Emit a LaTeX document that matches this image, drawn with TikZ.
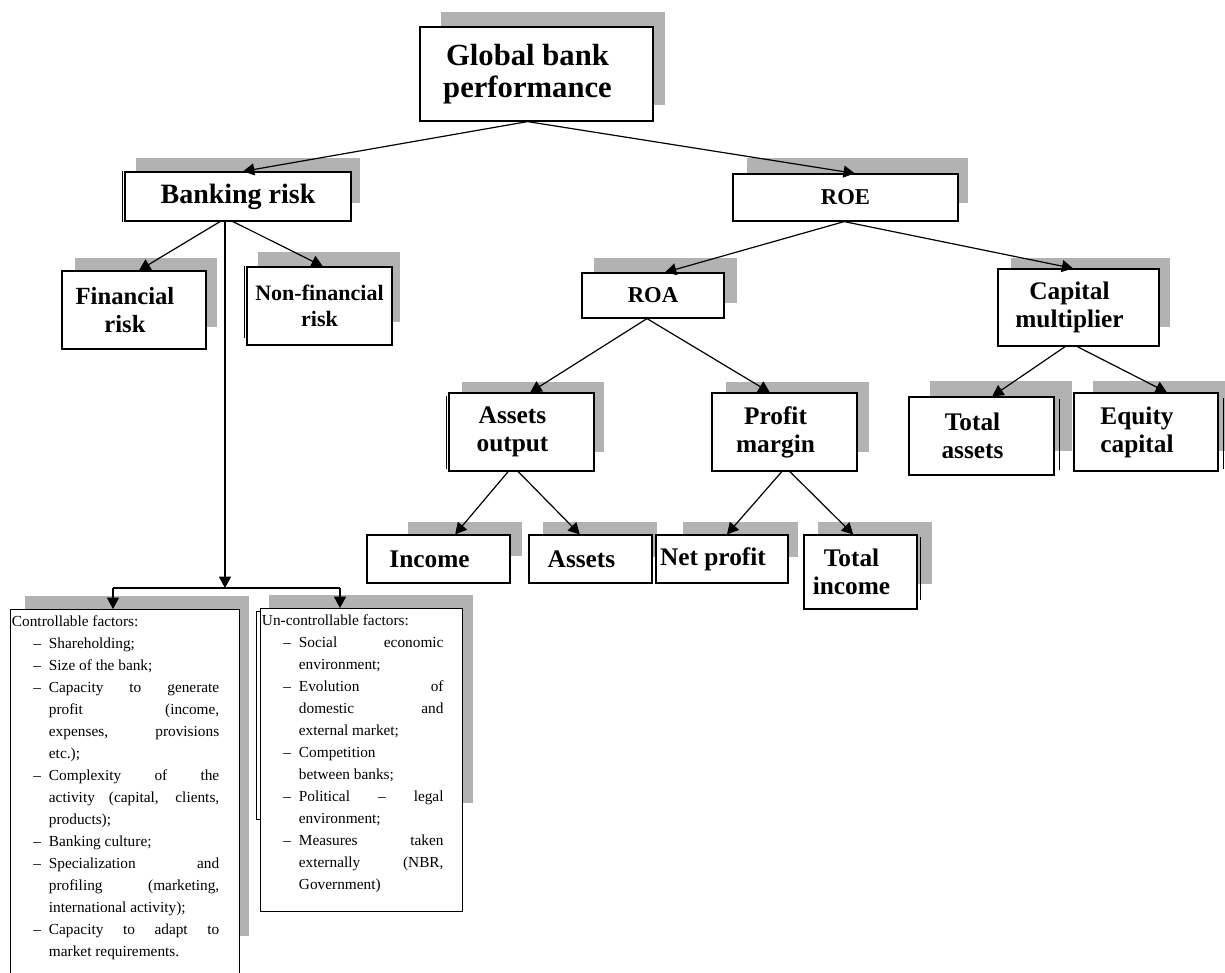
\documentclass[tikz,border=0pt]{standalone}
\usepackage{fontspec}
\setmainfont{Liberation Serif}
\usetikzlibrary{arrows.meta,calc}
\tikzset{
	treebox/.style = {shape=rectangle, draw, fill=white,
		line width=0.9pt, align=flush center, inner sep=0pt,
		font=\bfseries\fontsize{19}{21}\selectfont},
	boxsize/.style 2 args = {minimum width=#1*0.75pt, minimum height=#2*0.75pt,
		text width=#1*0.75pt},
	offleft/.style  = {execute at begin node={\advance\rightskip by 13.5pt}},
	topbox/.style   = {treebox, offleft, font=\bfseries\fontsize{23}{23.5}\selectfont},
	riskbox/.style  = {treebox, font=\bfseries\fontsize{18.5}{21}\selectfont},
	ratiobox/.style = {treebox, font=\bfseries\fontsize{17}{20}\selectfont},
	factors/.style  = {shape=rectangle, draw, fill=white, line width=0.9pt,
		anchor=north west, align=justify, inner xsep=1pt, inner ysep=0pt,
		text height=12.75pt, font=\fontsize{11.5}{16.5}\selectfont},
	shade/.style = {fill=black!30},
	link/.style  = {-{Triangle[length=8.5pt,width=9pt]}, line width=0.9pt},
	ghost/.style = {line width=0.5pt}
}
\newenvironment{dashlist}[1]{\begin{list}{--}{%
	\setlength{\leftmargin}{27.75pt}\setlength{\rightmargin}{#1}%
	\setlength{\labelsep}{6pt}\setlength{\labelwidth}{21pt}%
	\setlength{\topsep}{0pt}\setlength{\partopsep}{0pt}%
	\setlength{\itemsep}{0pt}\setlength{\parsep}{0pt}}%
	\tolerance=9999 \hyphenpenalty=10000 }{\end{list}}

\begin{document}
\begin{tikzpicture}[x=0.75pt, y=-0.75pt]
	\useasboundingbox (0,0) rectangle (1225,973);
	\clip (0,0) rectangle (1225,973);
	% shadows
	\fill[shade] (441,12) rectangle (665,105);
	\fill[shade] (136,158) rectangle (360,203);
	\fill[shade] (75,258) rectangle (217,327);
	\fill[shade] (258,252) rectangle (400,322);
	\fill[shade] (747,158) rectangle (968,203);
	\fill[shade] (594,258) rectangle (737,303);
	\fill[shade] (1011,258) rectangle (1170,327);
	\fill[shade] (462,382) rectangle (604,452);
	\fill[shade] (726,382) rectangle (869,452);
	\fill[shade] (408,522) rectangle (522,556);
	\fill[shade] (543,522) rectangle (657,557);
	\fill[shade] (683,522) rectangle (798,557);
	\fill[shade] (818,522) rectangle (932,584);
	\fill[shade] (930,381) rectangle (1072,451);
	\fill[shade] (1093,381) rectangle (1228,451);
	\fill[shade] (25,596) rectangle (249,936);
	\fill[shade] (269,595) rectangle (473,803);
	\draw[ghost] (256,611) rectangle (262,819);

	% boxes
	\node [topbox, boxsize={233}{94}] at (536.5,74) (glob) {Global bank\\performance};
	\node [treebox, boxsize={226}{49}, font=\bfseries\fontsize{21}{23}\selectfont] at (238,196.5) (bank) {Banking risk};
	\node [riskbox, offleft, boxsize={144}{78}] at (134,310) (fin) {Financial\\risk};
	\node [riskbox, boxsize={145}{78}, font=\bfseries\fontsize{16.5}{20}\selectfont] at (319.5,306) (nonfin) {Non-financial\\risk};
	\node [ratiobox, boxsize={225}{47}] at (845.5,197.5) (roe) {ROE};
	\node [ratiobox, boxsize={142}{45}] at (653,295.5) (roa) {ROA};
	\node [treebox, offleft, boxsize={161}{77}] at (1078.5,307.5) (capm) {Capital\\multiplier};
	\node [treebox, offleft, boxsize={145}{78}] at (521.5,432) (assout) {Assets\\output};
	\node [treebox, offleft, boxsize={145}{78}] at (784.5,432) (profm) {Profit\\margin};
	\node [treebox, offleft, boxsize={143}{48}] at (438.5,559) (income) {Income};
	\node [treebox, offleft, boxsize={123}{48}] at (590.5,559) (assets) {Assets};
	\node [treebox, offleft, boxsize={132}{48}] at (722,559) (netp) {Net profit};
	\node [treebox, offleft, boxsize={113}{74}] at (860.5,572) (totinc) {Total\\income};
	\node [treebox, offleft, boxsize={145}{78}] at (981.5,436) (totass) {Total\\assets};
	\node [treebox, offleft, boxsize={144}{78}] at (1146,432) (equity) {Equity\\capital};

	% second edges
	\draw[ghost] ([xshift=-1.8pt]bank.north west) -- ([xshift=-1.8pt]bank.south west);
	\draw[ghost] ([xshift=-1.8pt]nonfin.north west) -- ([xshift=-1.8pt,yshift=6pt]nonfin.south west);
	\draw[ghost] ([xshift=-1.5pt,yshift=-3pt]assout.north west) -- ([xshift=-1.5pt,yshift=2pt]assout.south west);
	\draw[ghost] ([xshift=1.8pt,yshift=-2pt]totinc.north east) -- ([xshift=1.8pt,yshift=7pt]totinc.south east);
	\draw[ghost] ([xshift=3.5pt,yshift=-2pt]totass.north east) -- ([xshift=3.5pt,yshift=4pt]totass.south east);
	\draw[ghost] ([xshift=3.5pt,yshift=-4pt]equity.north east) -- ([xshift=3.5pt,yshift=2pt]equity.south east);

	% factor boxes
	\node [factors, text width=169.5pt, text depth=273pt] at (10,609) (ctrl) {Controllable factors:
		\begin{dashlist}{14pt}
			\item Shareholding;
			\item Size of the bank;
			\item Capacity to generate\linebreak profit (income,\linebreak expenses, provisions\linebreak etc.);
			\item Complexity of the\linebreak activity (capital, clients,\linebreak products);
			\item Banking culture;
			\item Specialization and\linebreak profiling (marketing,\linebreak international activity);
			\item Capacity to adapt to\linebreak market requirements.
		\end{dashlist}};
	\node [factors, text width=149.5pt, text depth=214.5pt] at (260,608) (unctrl) {Un-controllable factors:
		\begin{dashlist}{13.3pt}
			\item Social economic\linebreak environment;
			\item Evolution of\linebreak domestic and\linebreak external market;
			\item Competition\linebreak between banks;
			\item Political -- legal\linebreak environment;
			\item Measures taken\linebreak externally (NBR,\linebreak Government)
		\end{dashlist}};

	% connectors
	\draw[link] ([xshift=-6.75pt]glob.south) -- ([xshift=3.75pt]bank.north);
	\draw[link] ([xshift=-6.75pt]glob.south) -- ([xshift=7pt]roe.north);
	\draw[link] ([xshift=-13.5pt]bank.south) -- ([xshift=3.75pt]fin.north);
	\draw[link] ([xshift=-3.75pt]bank.south) -- ([xshift=2.5pt]nonfin.north);
	\coordinate (split) at (225,588);
	\coordinate (hl) at (113,588);
	\coordinate (hr) at (340,588);
	\draw[link] (bank.south -| split) -- (split);
	\draw[line width=0.9pt] (hl) -- (hr);
	\draw[link] (hl) -- (hl |- ctrl.north);
	\draw[link] (hr) -- (hr |- unctrl.north);
	\draw[link] ([xshift=-1pt]roe.south) -- ([xshift=9pt]roa.north);
	\draw[link] ([xshift=-1pt]roe.south) -- ([xshift=-4pt]capm.north);
	\draw[link] ([xshift=-4.5pt]roa.south) -- ([xshift=6.5pt]assout.north);
	\draw[link] ([xshift=-4.5pt]roa.south) -- ([xshift=-11pt]profm.north);
	\draw[link] ([xshift=-10pt]assout.south) -- ([xshift=12.5pt]income.north);
	\draw[link] ([xshift=-2.5pt]assout.south) -- ([xshift=-8pt]assets.north);
	\draw[link] ([xshift=-2pt]profm.south) -- ([xshift=3.75pt]netp.north);
	\draw[link] ([xshift=4pt]profm.south) -- ([xshift=-5.5pt]totinc.north);
	\draw[link] ([xshift=-10pt]capm.south) -- ([xshift=8pt]totass.north);
	\draw[link] ([xshift=-1pt]capm.south) -- ([xshift=15.75pt]equity.north);
\end{tikzpicture}
\end{document}
